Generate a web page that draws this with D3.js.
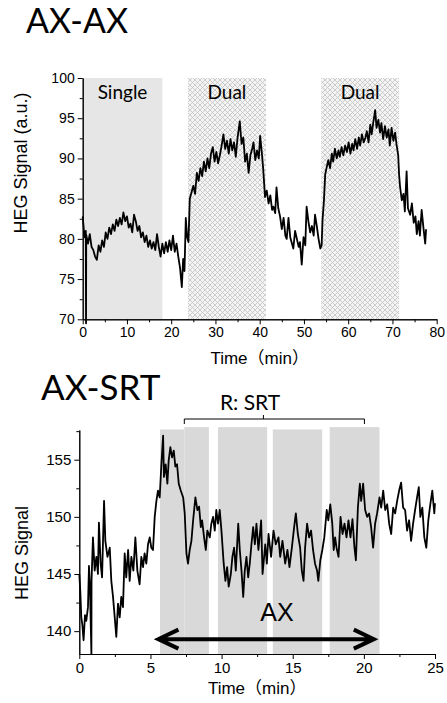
<!DOCTYPE html>
<html>
<head>
<meta charset="utf-8">
<script src="https://cdn.jsdelivr.net/npm/d3@7"></script>
<style>
  body { margin: 0; background: #fff; }
  svg text { font-family: "Liberation Sans", Arial, sans-serif; }
</style>
</head>
<body>
<svg id="chart" width="447" height="703"></svg>
<script>
// ---- AX-AX panel data ----
const axaxTicksY = [70, 75, 80, 85, 90, 95, 100];
const axaxMinorY = [72.5, 77.5, 82.5, 87.5, 92.5, 97.5];
const axaxTicksX = [0, 10, 20, 30, 40, 50, 60, 70, 80];
const axaxMinorX = [5, 15, 25, 35, 45, 55, 65, 75];
const axaxBlocks = [
  { label: "Single", from: 0, to: 18.0, kind: "single" },
  { label: "Dual", from: 23.8, to: 41.4, kind: "dual" },
  { label: "Dual", from: 53.9, to: 71.5, kind: "dual" },
];
// time (min), HEG signal
const axaxSignal = [
  [0.0, 82.8], [0.4, 80.2], [0.7, 81.0], [0.75, 69.5], [0.8, 80.5], [1.2, 79.4], [1.6, 80.6],
  [2.0, 79.0], [2.4, 78.6], [2.8, 77.8], [3.2, 77.4], [3.6, 79.2], [4.0, 78.4], [4.4, 79.8],
  [4.8, 79.0], [5.2, 80.8], [5.6, 80.0], [6.0, 81.4], [6.4, 80.6], [6.8, 81.8], [7.2, 81.0],
  [7.6, 82.4], [8.0, 81.6], [8.4, 82.6], [8.8, 81.8], [9.2, 83.3], [9.6, 82.2], [10.0, 82.8],
  [10.4, 81.4], [10.8, 81.9], [11.2, 80.8], [11.6, 83.0], [12.0, 82.2], [12.4, 81.0], [12.8, 81.6],
  [13.2, 80.2], [13.6, 80.8], [14.0, 79.6], [14.4, 80.4], [14.8, 79.0], [15.2, 79.8], [15.6, 78.8],
  [16.0, 79.6], [16.4, 78.6], [16.8, 80.6], [17.2, 79.0], [17.6, 77.8], [18.0, 79.4], [18.4, 78.2],
  [18.8, 79.6], [19.2, 78.4], [19.6, 79.8], [20.0, 78.6], [20.4, 80.4], [20.8, 78.4], [21.2, 79.4],
  [21.6, 77.8], [22.0, 76.4], [22.4, 74.0], [22.7, 77.5], [23.0, 76.0], [23.3, 82.6], [23.6, 80.2],
  [23.9, 79.6], [24.2, 85.0], [24.6, 85.8], [25.0, 86.6], [25.4, 85.6], [25.8, 88.2], [26.2, 87.2],
  [26.6, 88.8], [27.0, 87.8], [27.4, 89.6], [27.8, 88.4], [28.2, 90.0], [28.6, 88.8], [29.0, 90.6],
  [29.4, 91.4], [29.8, 89.6], [30.2, 90.8], [30.6, 89.4], [31.0, 90.4], [31.4, 91.6], [31.8, 93.0],
  [32.2, 91.2], [32.6, 92.2], [33.0, 90.6], [33.4, 92.4], [33.8, 91.0], [34.2, 92.0], [34.6, 90.2],
  [35.0, 92.6], [35.5, 94.6], [35.9, 91.8], [36.3, 92.6], [36.7, 89.6], [37.1, 90.6], [37.5, 88.2],
  [37.9, 90.4], [38.3, 91.2], [38.6, 92.0], [39.0, 89.8], [39.4, 91.0], [39.8, 90.0], [40.1, 92.8],
  [40.5, 90.6], [40.8, 88.6], [41.2, 85.2], [41.6, 86.0], [42.0, 84.4], [42.4, 85.4], [42.8, 83.6],
  [43.1, 84.0], [43.5, 83.2], [43.8, 86.4], [44.2, 83.8], [44.6, 82.8], [45.0, 81.2], [45.4, 82.6],
  [45.8, 80.4], [46.1, 80.0], [46.5, 82.6], [46.9, 80.2], [47.3, 79.4], [47.6, 78.8], [48.0, 81.0],
  [48.4, 80.0], [48.8, 79.0], [49.1, 79.6], [49.5, 76.8], [49.9, 80.2], [50.3, 79.2], [50.6, 84.0],
  [51.0, 82.2], [51.4, 80.8], [51.8, 81.6], [52.2, 80.4], [52.5, 83.0], [52.9, 81.6], [53.3, 80.0],
  [53.7, 78.8], [54.0, 79.2], [54.2, 82.4], [54.5, 84.6], [54.8, 88.0], [55.1, 88.8], [55.5, 89.8],
  [55.9, 88.8], [56.3, 90.6], [56.6, 89.6], [57.0, 91.2], [57.4, 90.0], [57.8, 91.0], [58.1, 90.2],
  [58.5, 91.4], [58.9, 90.4], [59.3, 91.6], [59.7, 90.8], [60.1, 92.0], [60.5, 90.6], [60.9, 91.8],
  [61.2, 91.0], [61.6, 92.4], [62.0, 91.2], [62.4, 92.6], [62.7, 91.6], [63.1, 93.0], [63.5, 92.0],
  [63.9, 92.6], [64.2, 93.4], [64.6, 92.0], [65.0, 94.2], [65.3, 93.0], [65.7, 94.6], [66.1, 96.0],
  [66.4, 93.8], [66.8, 94.8], [67.2, 93.2], [67.5, 94.4], [67.9, 92.4], [68.3, 94.0], [68.7, 92.6],
  [69.1, 93.6], [69.4, 91.6], [69.8, 93.8], [70.2, 92.2], [70.6, 93.2], [70.9, 91.8], [71.3, 90.4],
  [71.5, 88.0], [71.7, 86.6], [72.1, 84.8], [72.5, 85.6], [72.8, 83.4], [73.2, 88.4], [73.5, 83.8],
  [74.0, 83.0], [74.4, 84.4], [74.8, 82.0], [75.2, 82.8], [75.5, 80.6], [75.9, 82.2], [76.2, 80.4],
  [76.6, 83.6], [77.0, 81.4], [77.4, 79.4], [77.6, 81.2],
];

// ---- AX-SRT panel data ----
const axsrtTicksY = [140, 145, 150, 155];
const axsrtMinorY = [142.5, 147.5, 152.5, 157.5];
const axsrtTicksX = [0, 5, 10, 15, 20, 25];
const axsrtMinorX = [2.5, 7.5, 12.5, 17.5, 22.5];
// task blocks: start, end, top of block (signal units)
const axsrtBlocks = [
  [5.67, 7.38, 157.65], [7.38, 9.11, 157.85], [9.75, 13.2, 157.85],
  [13.6, 17.07, 157.65], [17.6, 21.1, 157.85],
];
const srtBracket = [7.38, 12.94, 20.04];
const axArrow = [5.56, 20.7, 139.3];
const axsrtSignal = [
  [0.0, 145.0], [0.07, 143.5], [0.14, 141.2], [0.21, 140.6], [0.3, 139.2], [0.4, 141.4], [0.49, 140.9],
  [0.61, 142.1], [0.68, 145.7], [0.75, 143.8], [0.85, 138.0], [0.86, 144.4], [0.96, 148.2], [1.08, 145.3],
  [1.2, 146.5], [1.31, 145.0], [1.38, 149.5], [1.5, 145.9], [1.6, 144.7], [1.74, 151.4], [1.83, 147.9],
  [1.98, 146.5], [2.14, 147.3], [2.25, 144.4], [2.37, 143.0], [2.49, 141.2], [2.6, 139.5], [2.72, 142.4],
  [2.84, 141.2], [2.95, 143.0], [3.07, 142.1], [3.19, 146.8], [3.3, 144.7], [3.43, 147.1], [3.54, 144.4],
  [3.66, 146.5], [3.8, 145.3], [3.94, 148.2], [4.08, 145.3], [4.24, 144.1], [4.36, 146.5], [4.48, 145.6],
  [4.59, 146.8], [4.71, 145.9], [4.83, 147.6], [4.95, 148.2], [5.06, 147.3], [5.18, 147.1], [5.3, 150.0],
  [5.42, 151.4], [5.53, 152.3], [5.65, 151.7], [5.77, 154.6], [5.89, 157.1], [5.95, 153.5], [6.07, 154.6],
  [6.19, 152.9], [6.28, 154.9], [6.4, 156.1], [6.52, 155.2], [6.64, 155.8], [6.75, 154.4], [6.87, 154.6],
  [6.99, 152.9], [7.13, 152.3], [7.3, 151.7], [7.41, 150.3], [7.53, 146.8], [7.64, 145.9], [7.76, 147.1],
  [7.88, 147.9], [8.0, 149.7], [8.16, 151.7], [8.3, 150.6], [8.42, 150.9], [8.54, 149.1], [8.63, 149.7],
  [8.77, 148.2], [8.89, 147.1], [9.0, 148.8], [9.17, 148.2], [9.28, 149.4], [9.4, 150.0], [9.52, 148.8],
  [9.63, 150.6], [9.75, 149.4], [9.87, 150.6], [9.99, 148.8], [10.15, 145.9], [10.27, 144.4], [10.39, 145.6],
  [10.5, 143.9], [10.65, 145.0], [10.76, 146.5], [10.88, 147.3], [11.0, 145.3], [11.17, 149.4], [11.28, 147.1],
  [11.4, 145.3], [11.52, 143.0], [11.63, 145.3], [11.75, 146.5], [11.87, 144.7], [11.98, 145.9], [12.1, 147.6],
  [12.22, 149.1], [12.34, 147.6], [12.45, 149.4], [12.59, 147.1], [12.78, 149.7], [12.88, 145.0], [13.07, 147.6],
  [13.18, 145.9], [13.3, 148.5], [13.48, 146.5], [13.65, 148.8], [13.81, 147.6], [14.0, 148.2], [14.12, 146.5],
  [14.28, 147.9], [14.47, 145.9], [14.63, 147.1], [14.77, 145.6], [14.94, 147.3], [15.1, 149.1], [15.22, 150.3],
  [15.36, 148.5], [15.52, 147.3], [15.64, 145.3], [15.76, 144.4], [15.87, 147.3], [16.01, 149.4], [16.15, 148.2],
  [16.29, 148.8], [16.43, 147.1], [16.57, 145.9], [16.71, 145.3], [16.8, 144.4], [16.94, 146.2], [17.08, 147.1],
  [17.22, 148.2], [17.39, 150.6], [17.5, 149.7], [17.64, 151.1], [17.78, 149.4], [17.88, 147.1], [17.98, 148.2],
  [18.08, 147.3], [18.22, 146.5], [18.36, 150.0], [18.5, 148.5], [18.64, 149.4], [18.78, 148.2], [18.92, 149.7],
  [19.06, 148.2], [19.2, 149.8], [19.34, 147.3], [19.44, 146.2], [19.58, 150.8], [19.72, 152.9], [19.81, 151.4],
  [19.95, 152.9], [20.09, 150.6], [20.23, 150.0], [20.37, 150.3], [20.51, 149.1], [20.65, 147.3], [20.79, 149.4],
  [20.93, 150.3], [21.1, 151.7], [21.22, 150.8], [21.36, 152.3], [21.5, 150.6], [21.64, 151.1], [21.78, 149.4],
  [21.92, 148.5], [22.06, 150.8], [22.2, 150.3], [22.34, 151.4], [22.48, 152.3], [22.62, 153.0], [22.76, 150.8],
  [22.9, 150.6], [23.04, 148.8], [23.18, 149.7], [23.32, 147.9], [23.46, 149.4], [23.6, 150.6], [23.74, 151.7],
  [23.86, 152.6], [23.97, 150.0], [24.11, 150.8], [24.25, 148.2], [24.39, 147.3], [24.53, 149.7], [24.67, 151.1],
  [24.81, 152.3], [24.95, 150.3], [25.0, 151.2],
];

const svg = d3.select("#chart");

// crosshatch for the dual-task blocks
const pat = svg.append("defs").append("pattern")
  .attr("id", "hatch")
  .attr("patternUnits", "userSpaceOnUse")
  .attr("width", 5)
  .attr("height", 5);
pat.append("rect").attr("width", 5).attr("height", 5).attr("fill", "#f4f4f4");
pat.append("path")
  .attr("d", "M0,0L5,5M5,0L0,5")
  .attr("stroke", "#c2c2c2")
  .attr("stroke-width", 0.8);

function drawAxes(x, y, ticksX, minorX, ticksY, minorY, fontSize) {
  const fmt = d3.format("d");
  const yb = y.range()[0];
  const xl = x.range()[0];
  const axes = [
    [d3.axisBottom(x).tickValues(ticksX).tickSize(5).tickFormat(fmt), `translate(0,${yb})`],
    [d3.axisBottom(x).tickValues(minorX).tickSize(3).tickFormat(""), `translate(0,${yb})`],
    [d3.axisLeft(y).tickValues(ticksY).tickSize(5).tickFormat(fmt), `translate(${xl},0)`],
    [d3.axisLeft(y).tickValues(minorY).tickSize(3).tickFormat(""), `translate(${xl},0)`],
  ];
  axes.forEach(([ax, tr]) => {
    const g = svg.append("g")
      .attr("transform", tr)
      .call(ax.tickSizeOuter(0).tickPadding(3));
    g.selectAll("text")
      .attr("font-size", fontSize)
      .attr("font-family", "Liberation Sans, Arial, sans-serif")
      .attr("fill", "#000");
    g.selectAll("line,path").attr("stroke", "#000");
  });
}

// ---------- AX-AX ----------
const x1 = d3.scaleLinear().domain([0, 80]).range([82.7, 436.7]);
const y1 = d3.scaleLinear().domain([70, 100]).range([319.3, 78]);

svg.selectAll(".blk1")
  .data(axaxBlocks)
  .enter()
  .append("rect")
  .attr("x", (d) => x1(d.from))
  .attr("y", y1(100))
  .attr("width", (d) => x1(d.to) - x1(d.from))
  .attr("height", y1(70) - y1(100))
  .attr("fill", (d) => (d.kind === "single" ? "#e6e6e6" : "url(#hatch)"));

svg.selectAll(".blklab1")
  .data(axaxBlocks)
  .enter()
  .append("text")
  .attr("x", (d) => x1((d.from + d.to) / 2))
  .attr("y", 99)
  .attr("text-anchor", "middle")
  .style("font-family", "Lato, 'Open Sans', sans-serif")
  .style("font-size", "19px")
  .text((d) => d.label);

const line1 = d3.line().x((d) => x1(d[0])).y((d) => y1(d[1]));
svg.append("path")
  .datum(axaxSignal)
  .attr("d", line1)
  .attr("fill", "none")
  .attr("stroke", "#000")
  .attr("stroke-width", 1.8)
  .attr("stroke-linejoin", "round");

drawAxes(x1, y1, axaxTicksX, axaxMinorX, axaxTicksY, axaxMinorY, 14);

svg.append("text")
  .attr("x", 26)
  .attr("y", 33)
  .style("font-family", "Lato, 'Open Sans', sans-serif")
  .style("font-size", "34px")
  .text("AX-AX");

svg.append("text")
  .attr("transform", "translate(27,163) rotate(-90)")
  .attr("text-anchor", "middle")
  .style("font-size", "18px")
  .text("HEG Signal (a.u.)");

svg.append("text")
  .attr("x", (x1.range()[0] + x1.range()[1]) / 2)
  .attr("y", 364)
  .attr("text-anchor", "middle")
  .style("font-family", "'Liberation Sans', 'Noto Sans CJK JP', sans-serif")
  .style("font-size", "17px")
  .text("Time（min）");

// ---------- AX-SRT ----------
const x2 = d3.scaleLinear().domain([0, 25]).range([79.3, 435]);
const y2 = d3.scaleLinear().domain([138, 157.6]).range([654, 430]);

svg.selectAll(".blk2")
  .data(axsrtBlocks)
  .enter()
  .append("rect")
  .attr("x", (d) => x2(d[0]))
  .attr("y", (d) => y2(d[2]))
  .attr("width", (d) => x2(d[1]) - x2(d[0]))
  .attr("height", (d) => y2(138) - y2(d[2]))
  .attr("fill", "#d9d9d9");

const line2 = d3.line().x((d) => x2(d[0])).y((d) => y2(d[1]));
svg.append("path")
  .datum(axsrtSignal)
  .attr("d", line2)
  .attr("fill", "none")
  .attr("stroke", "#000")
  .attr("stroke-width", 1.8)
  .attr("stroke-linejoin", "round");

drawAxes(x2, y2, axsrtTicksX, axsrtMinorX, axsrtTicksY, axsrtMinorY, 15);

// R: SRT bracket
const by = 419;
svg.append("path")
  .attr("d", `M${x2(srtBracket[0])},${by + 5}V${by}H${x2(srtBracket[2])}V${by + 5}` +
    `M${x2(srtBracket[1])},${by}V${by - 4}`)
  .attr("fill", "none")
  .attr("stroke", "#000")
  .attr("stroke-width", 1);

svg.append("text")
  .attr("x", 250)
  .attr("y", 410)
  .attr("text-anchor", "middle")
  .style("font-family", "Lato, 'Open Sans', sans-serif")
  .style("font-size", "21px")
  .text("R: SRT");

// AX double arrow
const ax0 = x2(axArrow[0]);
const ax1 = x2(axArrow[1]);
const ay = y2(axArrow[2]);
svg.append("path")
  .attr("d", `M${ax0},${ay}H${ax1}` +
    `M${ax0 + 20},${ay - 9.5}L${ax0},${ay}L${ax0 + 20},${ay + 9.5}` +
    `M${ax1 - 20},${ay - 9.5}L${ax1},${ay}L${ax1 - 20},${ay + 9.5}`)
  .attr("fill", "none")
  .attr("stroke", "#000")
  .attr("stroke-width", 4);

svg.append("text")
  .attr("x", 277)
  .attr("y", 621)
  .attr("text-anchor", "middle")
  .style("font-size", "25px")
  .text("AX");

svg.append("text")
  .attr("x", 41)
  .attr("y", 400)
  .style("font-family", "Lato, 'Open Sans', sans-serif")
  .style("font-size", "35px")
  .text("AX-SRT");

svg.append("text")
  .attr("transform", "translate(28,553) rotate(-90)")
  .attr("text-anchor", "middle")
  .style("font-size", "18px")
  .text("HEG Signal");

svg.append("text")
  .attr("x", (x2.range()[0] + x2.range()[1]) / 2)
  .attr("y", 694)
  .attr("text-anchor", "middle")
  .style("font-family", "'Liberation Sans', 'Noto Sans CJK JP', sans-serif")
  .style("font-size", "17px")
  .text("Time（min）");
</script>
</body>
</html>
